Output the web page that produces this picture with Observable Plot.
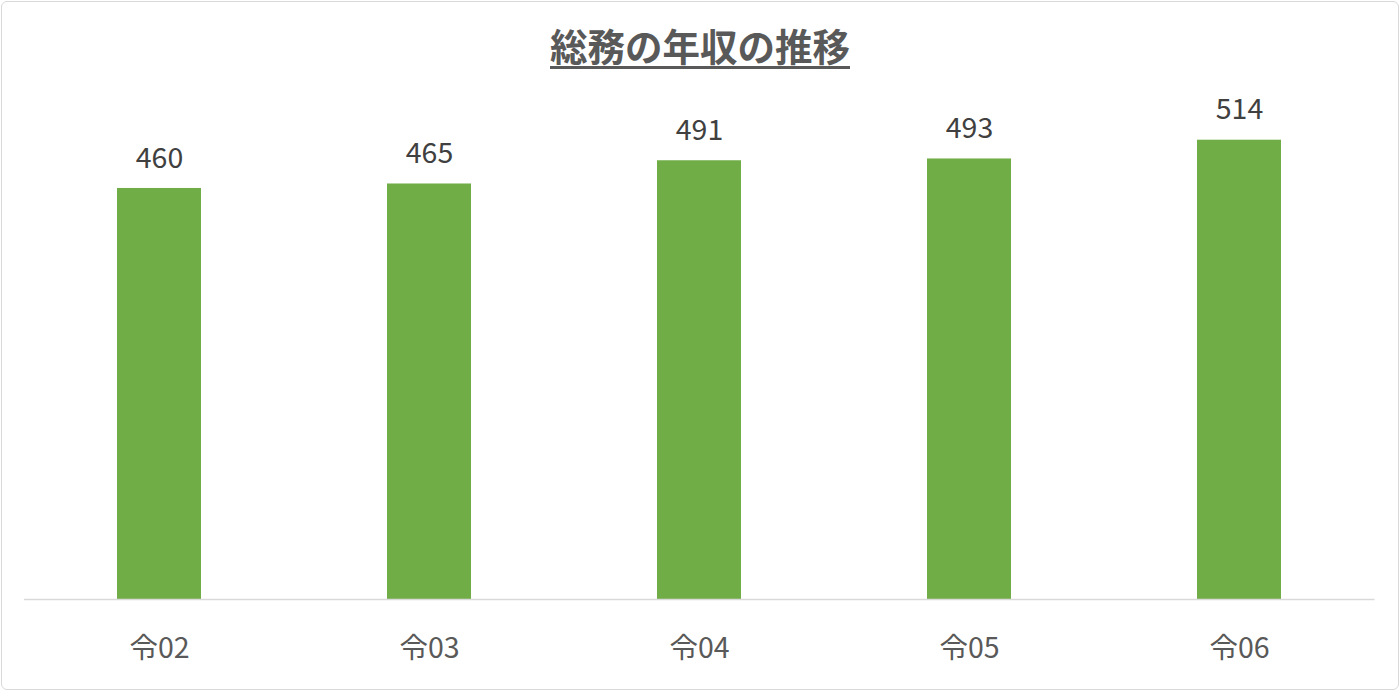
<!DOCTYPE html>
<html>
<head>
<meta charset="utf-8">
<script src="https://cdn.jsdelivr.net/npm/d3@7"></script>
<script src="https://cdn.jsdelivr.net/npm/@observablehq/plot@0.6"></script>
<style>
  html, body { margin: 0; padding: 0; background: #fff; }
  #wrap { position: relative; width: 1400px; height: 691px; overflow: hidden; font-family: "Noto Sans CJK JP", "Noto Sans", sans-serif; }
  #frame { position: absolute; left: 1px; top: 1px; width: 1396px; height: 687px; border: 1.5px solid #d9d9d9; border-radius: 6px; pointer-events: none; }
  #title { height: 80px; box-sizing: border-box; padding-top: 26px; text-align: center; font-size: 37.5px; line-height: 37.5px; font-weight: bold; color: #595959; text-decoration: underline; text-decoration-thickness: 3px; text-underline-offset: 5px; }
  svg { display: block; }
</style>
</head>
<body>
<div id="wrap">
  <div id="title">総務の年収の推移</div>
  <div id="chart"></div>
  <div id="frame"></div>
</div>
<script>
const categories = ["令02", "令03", "令04", "令05", "令06"];
const values = [460, 465, 491, 493, 514];

const data = categories.map((c, i) => ({category: c, value: values[i]}));

const chart = Plot.plot({
  width: 1400,
  height: 611,
  marginLeft: 24,
  marginRight: 25.5,
  marginTop: 18.6,
  marginBottom: 92,
  style: {fontFamily: '"Noto Sans CJK JP", "Noto Sans", sans-serif', background: "transparent"},
  x: {domain: categories, paddingInner: 0.689, paddingOuter: 0.3445, label: null},
  y: {domain: [0, 560], axis: null},
  marks: [
    Plot.barY(data, {x: "category", y: "value", fill: "#70ad47"}),
    Plot.ruleY([0], {stroke: "#d9d9d9", strokeWidth: 1.5}),
    Plot.text(data, {x: "category", y: "value", text: d => String(d.value), dy: -30, fontSize: 28.5, fill: "#404040"}),
    Plot.axisX({tickSize: 0, tickPadding: 38, fontSize: 28.5, fill: "#595959", label: null})
  ]
});
document.getElementById("chart").appendChild(chart);
</script>
</body>
</html>
